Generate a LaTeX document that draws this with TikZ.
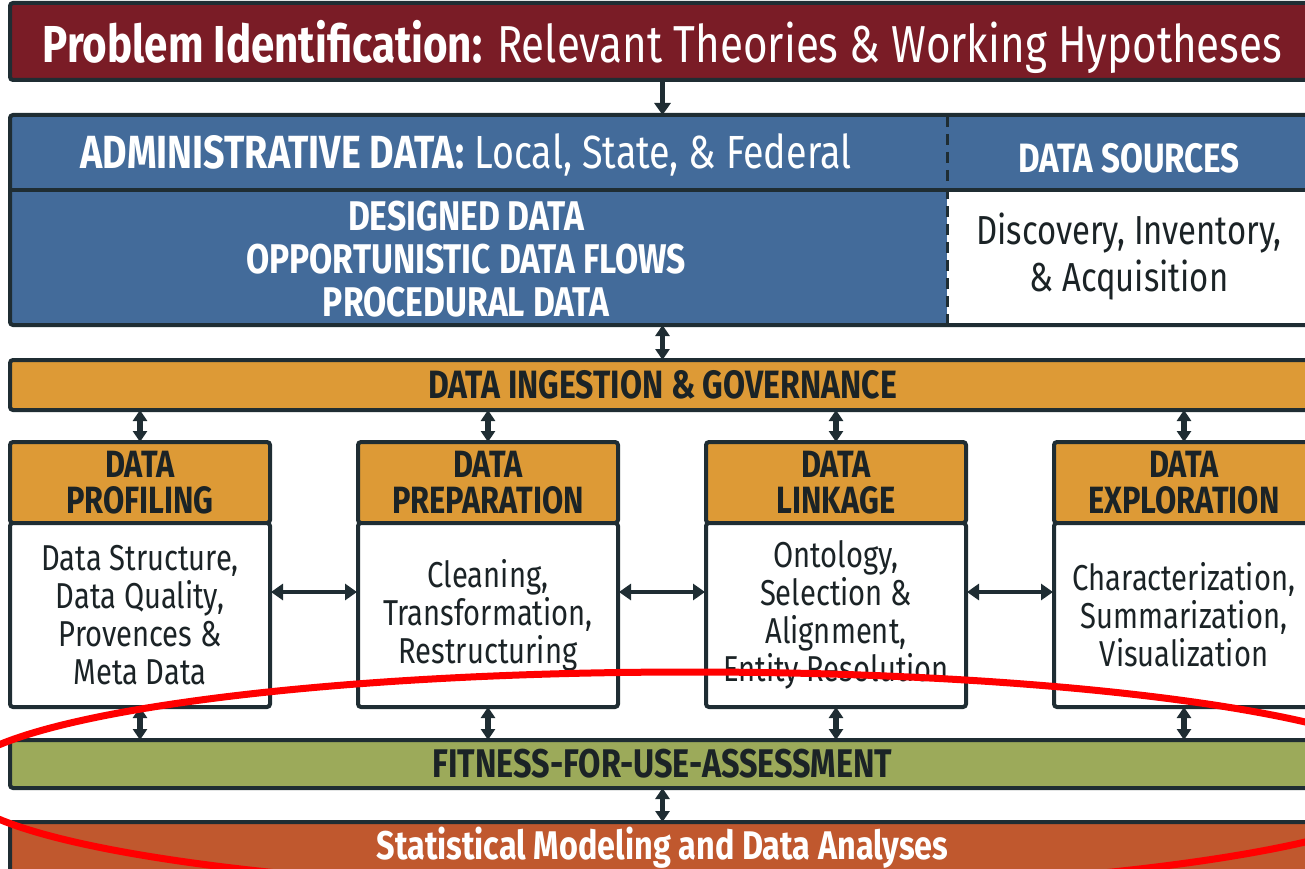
\documentclass[tikz,border=0pt]{standalone}
\usepackage{fontspec}
\setmainfont{Fira Sans}[FakeStretch=0.81]
\usetikzlibrary{arrows.meta, positioning, calc}
\definecolor{probred}{HTML}{7A1C26}
\definecolor{admblue}{HTML}{436B9A}
\definecolor{ingorange}{HTML}{DD9A36}
\definecolor{fitgreen}{HTML}{9CAA5A}
\definecolor{starust}{HTML}{C0582E}
\definecolor{edge}{HTML}{1F2D33}
\definecolor{ink}{HTML}{1B2326}

\begin{document}
\begin{tikzpicture}
		[x=1pt, y=-1pt,
	bar/.style={draw=edge,line width=4pt,rounded corners=3pt,outer sep=0pt,minimum width=1305pt,inner sep=0pt},
	head/.style={draw=edge,line width=4pt,rounded corners=3pt,outer sep=0pt,fill=ingorange,minimum width=260pt,minimum height=81pt,align=center,text=ink,font=\fontsize{38}{36}\selectfont\bfseries},
	body/.style={draw=edge,line width=4pt,rounded corners=3pt,outer sep=0pt,fill=white,minimum width=260pt,minimum height=184pt,align=center,text=ink,font=\fontsize{36}{38}\selectfont},
	dbl/.style={{Triangle[width=14pt,length=11pt]}-{Triangle[width=14pt,length=11pt]},line width=5.5pt,draw=edge},
	hdbl/.style={{Triangle[width=16pt,length=12pt]}-{Triangle[width=16pt,length=12pt]},line width=4.5pt,draw=edge,shorten <=1pt,shorten >=1pt}
	]
		\useasboundingbox (0,0) rectangle (1305,869);
		\clip (0,0) rectangle (1305,869);

		\node (pro) [bar,fill=probred,minimum height=77pt,text=white,text depth=0pt,font=\fontsize{52}{52}\selectfont] at (662.5,41.5) {\textbf{Problem Identification:} Relevant Theories \& Working Hypotheses};

		% administrative data block
		\node (adm) [bar,fill=admblue,minimum height=210pt] at (662.5,220) {};
		\fill [white] (947,190) rectangle (1320,323);
		\draw [edge,line width=4pt] (adm.west |- 0,190) -- (adm.east |- 0,190);
		\draw [edge,line width=3pt,dash pattern=on 11pt off 7pt] (947,116) -- (947,324);
		\node (adt) [text=white,font=\fontsize{46.5}{46}\selectfont] at (466,155) {\textbf{ADMINISTRATIVE DATA:} Local, State, \& Federal};
		\node (des) [text=white,align=center,font=\fontsize{41.5}{43}\selectfont\bfseries] at (466,259) {DESIGNED DATA\\OPPORTUNISTIC DATA FLOWS\\PROCEDURAL DATA};
		\node (src) [text=white,font=\fontsize{41}{40}\selectfont\bfseries] at (1129,158) {DATA SOURCES};
		\node (dis) [text=ink,align=center,font=\fontsize{40.5}{47}\selectfont] at (1129,257) {Discovery, Inventory,\\\& Acquisition};

		\node (ing) [bar,fill=ingorange,minimum height=50pt,text=ink,font=\fontsize{39.5}{38}\selectfont\bfseries] at (662.5,385) {DATA INGESTION \& GOVERNANCE};

		% the four stages
		\node (hd1) [head] at (140,482.5) {DATA\\PROFILING};
		\node (bd1) [body,below=0pt of hd1] {Data Structure,\\Data Quality,\\Provences \&\\Meta Data};
		\node (hd2) [head] at (488,482.5) {DATA\\PREPARATION};
		\node (bd2) [body,below=0pt of hd2] {Cleaning,\\Transformation,\\Restructuring};
		\node (hd3) [head] at (836,482.5) {DATA\\LINKAGE};
		\node (bd3) [body,below=0pt of hd3] {Ontology,\\Selection \&\\Alignment,\\Entity Resolution};
		\node (hd4) [head] at (1184,482.5) {DATA\\EXPLORATION};
		\node (bd4) [body,below=0pt of hd4] {Characterization,\\Summarization,\\Visualization};

		\node (fit) [bar,fill=fitgreen,minimum height=48pt,text=ink,font=\fontsize{40}{38}\selectfont\bfseries] at (662.5,764) {FITNESS-FOR-USE-ASSESSMENT};
		\node (sta) [bar,fill=starust,minimum height=52pt,text=white,font=\fontsize{40}{41}\selectfont\bfseries] at (662.5,848) {Statistical Modeling and Data Analyses};

		\draw [draw=edge,line width=5.5pt,-{Triangle[width=16pt,length=12pt]}] (pro.south) -- (adm.north);
		\draw [dbl] (adm.south) -- (ing.north);
		\draw [dbl] (hd1.north |- ing.south) -- (hd1.north);
		\draw [dbl] (hd2.north |- ing.south) -- (hd2.north);
		\draw [dbl] (hd3.north |- ing.south) -- (hd3.north);
		\draw [dbl] (hd4.north |- ing.south) -- (hd4.north);
		\draw [hdbl] ([yshift=23pt]bd1.east) -- ([yshift=23pt]bd2.west);
		\draw [hdbl] ([yshift=23pt]bd2.east) -- ([yshift=23pt]bd3.west);
		\draw [hdbl] ([yshift=23pt]bd3.east) -- ([yshift=23pt]bd4.west);
		\draw [dbl] (bd1.south) -- (bd1.south |- fit.north);
		\draw [dbl] (bd2.south) -- (bd2.south |- fit.north);
		\draw [dbl] (bd3.south) -- (bd3.south |- fit.north);
		\draw [dbl] (bd4.south) -- (bd4.south |- fit.north);
		\draw [dbl] (fit.south) -- (sta.north);

		% red highlight
		\draw [red,line width=7pt] (690,782) ellipse [x radius=734, y radius=110];
	\end{tikzpicture}
\end{document}
